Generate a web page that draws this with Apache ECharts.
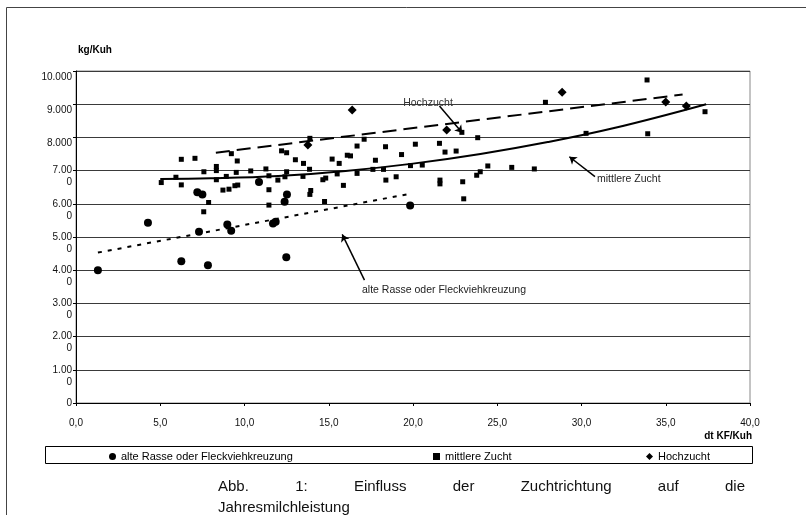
<!DOCTYPE html>
<html>
<head>
<meta charset="utf-8">
<script src="https://cdn.jsdelivr.net/npm/echarts@6/dist/echarts.min.js"></script>
<style>
  html, body { margin: 0; padding: 0; background: #fff; }
  #chart { width: 810px; height: 515px; }
</style>
</head>
<body>
<div id="chart"></div>
<script>
// Axis tick labels (the y labels wrap the way the original spreadsheet chart did)
const xTickLabels = ['0,0', '5,0', '10,0', '15,0', '20,0', '25,0', '30,0', '35,0', '40,0'];
const yTickLabels = ['0', '1.00\n0', '2.00\n0', '3.00\n0', '4.00\n0', '5.00\n0', '6.00\n0', '7.00\n0', '8.000', '9.000', '10.000'];

const seriesNames = ['alte Rasse oder Fleckviehkreuzung', 'mittlere Zucht', 'Hochzucht'];

// Farms: [dt KF/Kuh, kg/Kuh]
const alteRasse = [
  [1.3, 4000], [4.27, 5430], [6.25, 4270], [7.83, 4150], [7.3, 5160], [7.2, 6350],
  [7.5, 6280], [8.98, 5380], [9.21, 5190], [10.86, 6660], [11.69, 5410], [11.85, 5460],
  [12.38, 6060], [12.52, 6280], [12.48, 4390], [19.83, 5950]
];
const mittlereZucht = [
  [5.06, 6640], [5.93, 6800], [6.25, 7340], [6.25, 6570], [7.06, 7370], [7.59, 6965],
  [7.58, 5760], [7.87, 6040], [8.33, 7125], [8.33, 7000], [8.33, 6725], [8.92, 6825],
  [9.22, 7510], [9.57, 7290], [8.72, 6413], [9.08, 6440], [9.43, 6545], [9.6, 6565],
  [9.51, 6946], [10.37, 6990], [11.27, 7050], [11.45, 6844], [11.45, 6424], [11.45, 5961],
  [11.98, 6714], [12.2, 7595], [12.5, 7538], [13.02, 7327], [12.5, 6965], [12.4, 6814],
  [13.5, 7217], [13.47, 6825], [13.88, 7972], [13.86, 7040], [13.93, 6400], [13.88, 6283],
  [14.65, 6725], [14.82, 6775], [14.75, 6070], [15.2, 7347], [15.5, 6900], [15.62, 7217],
  [15.87, 6555], [16.1, 7463], [16.29, 7443], [16.68, 7740], [16.68, 6916], [17.1, 7945],
  [17.62, 7037], [17.77, 7312], [18.25, 7037], [18.37, 7719], [18.39, 6714], [19.0, 6814],
  [19.32, 7483], [19.85, 7150], [20.14, 7795], [20.55, 7167], [21.57, 7821], [21.9, 7558],
  [22.56, 7589], [21.6, 6714], [21.6, 6600], [22.95, 6664], [23.01, 6150], [22.9, 8152],
  [23.84, 7991], [23.78, 6860], [23.99, 6965], [24.44, 7140], [25.86, 7097], [27.2, 7050],
  [27.86, 9057], [30.27, 8122], [33.89, 9730], [33.93, 8110], [37.33, 8774]
];
const hochzucht = [
  [13.76, 7770], [16.39, 8825], [22.0, 8222], [28.85, 9360], [35.0, 9070], [36.22, 8945]
];

// Trend lines
const trendAlte = [[1.3, 4530], [19.8, 6300]];
const trendMittel = [[5.0, 6750], [8, 6770], [12, 6840], [16, 6990], [20, 7210], [24, 7500], [28, 7860], [32, 8290], [37.4, 9000]];
const trendHoch = [[8.3, 7540], [36.0, 9290]];

// Callout arrows: [from, to] in axis units
const arrowHoch = [[21.57, 8945], [22.92, 8141]];
const arrowMittel = [[30.8, 6820], [29.28, 7417]];
const arrowAlte = [[17.12, 3700], [15.8, 5077]];

const captionWords = ['Abb.', '1:', 'Einfluss', 'der', 'Zuchtrichtung', 'auf', 'die'];
const captionLine2 = 'Jahresmilchleistung';

const FONT = '"Liberation Sans", Arial, sans-serif';

const chart = echarts.init(document.getElementById('chart'), null, { renderer: 'canvas' });

// Lay the first caption line out justified between two edges
function captionGraphics() {
  const font = '15px ' + FONT;
  const ctx = document.createElement('canvas').getContext('2d');
  ctx.font = font;
  const left = 218, right = 745;
  const widths = captionWords.map(w => ctx.measureText(w).width);
  const total = widths.reduce((a, b) => a + b, 0);
  const gap = (right - left - total) / (captionWords.length - 1);
  const out = [];
  let x = left;
  captionWords.forEach((w, i) => {
    out.push({ type: 'text', style: { text: w, x: x, y: 487, font: font, fill: '#111', textVerticalAlign: 'middle', verticalAlign: 'middle' } });
    x += widths[i] + gap;
  });
  out.push({ type: 'text', style: { text: captionLine2, x: left, y: 508, font: font, fill: '#111', textVerticalAlign: 'middle', verticalAlign: 'middle' } });
  return out;
}

function arrowLine(pair) {
  return [{ coord: pair[0] }, { coord: pair[1] }];
}

const legendBase = {
  orient: 'horizontal',
  itemWidth: 7,
  itemHeight: 7,
  itemGap: 0,
  top: 446,
  selectedMode: false,
  textStyle: { fontSize: 11, fontFamily: FONT, color: '#000' }
};

const option = {
  animation: false,
  backgroundColor: '#fff',
  grid: {
    left: 76, top: 71, width: 674, height: 332,
    show: true, borderColor: '#888', borderWidth: 1, backgroundColor: 'transparent'
  },
  xAxis: {
    type: 'value', min: 0, max: 40, interval: 5,
    axisLine: { show: true, onZero: false, lineStyle: { color: '#000', width: 1 } },
    axisTick: { show: true, length: 3, lineStyle: { color: '#000' } },
    splitLine: { show: false },
    axisLabel: {
      margin: 15, fontSize: 10, fontFamily: FONT, color: '#111',
      formatter: v => xTickLabels[Math.round(v / 5)]
    }
  },
  yAxis: {
    type: 'value', min: 0, max: 10000, interval: 1000,
    axisLine: { show: true, onZero: false, lineStyle: { color: '#000', width: 1 } },
    axisTick: { show: true, length: 3, lineStyle: { color: '#000' } },
    splitLine: { show: true, lineStyle: { color: '#3a3a3a', width: 1 } },
    axisLabel: {
      margin: 4, fontSize: 10, lineHeight: 12, fontFamily: FONT, color: '#111',
      formatter: v => {
        const s = yTickLabels[Math.round(v / 1000)];
        return v === 0 ? s : '\n' + s;
      }
    }
  },
  legend: [
    Object.assign({}, legendBase, { left: 104, data: [seriesNames[0]] }),
    Object.assign({}, legendBase, { left: 428, data: [seriesNames[1]] }),
    Object.assign({}, legendBase, { left: 641, data: [seriesNames[2]] })
  ],
  series: [
    {
      name: seriesNames[0], type: 'scatter', data: alteRasse,
      symbol: 'circle', symbolSize: 8, itemStyle: { color: '#000', opacity: 1 }, z: 5
    },
    {
      name: seriesNames[1], type: 'scatter', data: mittlereZucht,
      symbol: 'rect', symbolSize: 5, itemStyle: { color: '#000', opacity: 1 }, z: 5
    },
    {
      name: seriesNames[2], type: 'scatter', data: hochzucht,
      symbol: 'diamond', symbolSize: 9, itemStyle: { color: '#000', opacity: 1 }, z: 5
    },
    {
      name: 'trendAlte', type: 'line', data: trendAlte, showSymbol: false, symbol: 'none',
      lineStyle: { color: '#000', width: 2, type: [4, 6] }, z: 4
    },
    {
      name: 'trendMittel', type: 'line', data: trendMittel, showSymbol: false, symbol: 'none', smooth: 0.4,
      lineStyle: { color: '#000', width: 2 }, z: 4,
      markLine: {
        silent: true, symbol: ['none', 'arrow'], symbolSize: 7, animation: false,
        label: { show: false },
        lineStyle: { color: '#000', width: 1.5, type: 'solid' },
        emphasis: { disabled: true },
        data: [arrowLine(arrowHoch), arrowLine(arrowMittel), arrowLine(arrowAlte)]
      }
    },
    {
      name: 'trendHoch', type: 'line', data: trendHoch, showSymbol: false, symbol: 'none',
      lineStyle: { color: '#000', width: 2, type: [14, 7] }, z: 4
    }
  ],
  graphic: [
    { type: 'polyline', shape: { points: [[6.5, 515], [6.5, 7.5], [806, 7.5]] }, style: { stroke: '#444', lineWidth: 1, fill: null } },
    { type: 'rect', shape: { x: 45.5, y: 446.5, width: 707, height: 17 }, style: { stroke: '#000', lineWidth: 1, fill: null } },
    { type: 'text', style: { text: 'kg/Kuh', x: 78, y: 50, font: 'bold 10px ' + FONT, fill: '#000', textVerticalAlign: 'middle', verticalAlign: 'middle' } },
    { type: 'text', style: { text: 'dt KF/Kuh', x: 752, y: 436, font: 'bold 10px ' + FONT, fill: '#000', textAlign: 'right', align: 'right', textVerticalAlign: 'middle', verticalAlign: 'middle' } },
    { type: 'text', z: 10, style: { text: 'Hochzucht', x: 428, y: 103, font: '10.5px ' + FONT, fill: '#333', textAlign: 'center', align: 'center', textVerticalAlign: 'middle', verticalAlign: 'middle' } },
    { type: 'text', z: 10, style: { text: 'mittlere Zucht', x: 597, y: 179, font: '10.5px ' + FONT, fill: '#222', textVerticalAlign: 'middle', verticalAlign: 'middle' } },
    { type: 'text', z: 10, style: { text: 'alte Rasse oder Fleckviehkreuzung', x: 362, y: 290.5, font: '10.5px ' + FONT, fill: '#222', textVerticalAlign: 'middle', verticalAlign: 'middle' } }
  ].concat(captionGraphics())
};

chart.setOption(option);
</script>
</body>
</html>
